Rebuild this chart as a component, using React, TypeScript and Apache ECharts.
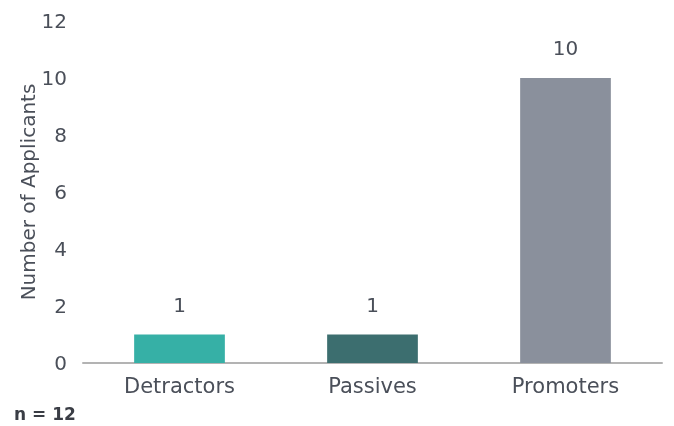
import React, { useEffect, useRef } from "react";
import * as echarts from "echarts";

const categories = ["Detractors", "Passives", "Promoters"];
const values = [1, 1, 10];
const barColors = ["#36b0a6", "#3c6e6f", "#8a909c"];
const yTicks = { min: 0, max: 12, interval: 2 };

export default function App() {
  const ref = useRef<HTMLDivElement>(null);
  useEffect(() => {
    if (!ref.current) return;
    const chart = echarts.init(ref.current, null, { renderer: "svg" });
    const font = "DejaVu Sans";
    chart.setOption({
      animation: false,
      textStyle: { fontFamily: font },
      grid: { left: 83, right: 12, top: 21, bottom: 63 },
      xAxis: {
        type: "category",
        data: categories,
        axisLine: { lineStyle: { color: "#b3b3b3", width: 2 } },
        axisTick: { show: false },
        axisLabel: { color: "#4a4f59", fontSize: 21, margin: 12, fontFamily: font },
      },
      yAxis: {
        type: "value",
        min: yTicks.min,
        max: yTicks.max,
        interval: yTicks.interval,
        splitLine: { show: false },
        axisLine: { show: false },
        axisTick: { show: false },
        axisLabel: { color: "#4a4f59", fontSize: 20, margin: 16, fontFamily: font },
        name: "Number of Applicants",
        nameLocation: "middle",
        nameGap: 45,
        nameMoveOverlap: false,
        nameTextStyle: { color: "#4a4f59", fontSize: 20, fontFamily: font },
      },
      series: [
        {
          type: "bar",
          data: values.map((v, i) => ({ value: v, itemStyle: { color: barColors[i] } })),
          barWidth: "47%",
          label: {
            show: true,
            position: "top",
            distance: 20,
            color: "#4a4f59",
            fontSize: 20,
            fontFamily: font,
          },
        },
      ],
      graphic: [
        {
          type: "text",
          left: 14,
          top: 405,
          style: { text: "n = 12", fontSize: 17, fontWeight: "bold", fill: "#3a3d45", fontFamily: font },
        },
      ],
    });
    return () => chart.dispose();
  }, []);
  return <div ref={ref} style={{ width: 674, height: 426, position: "fixed", left: 0, top: 0 }} />;
}
